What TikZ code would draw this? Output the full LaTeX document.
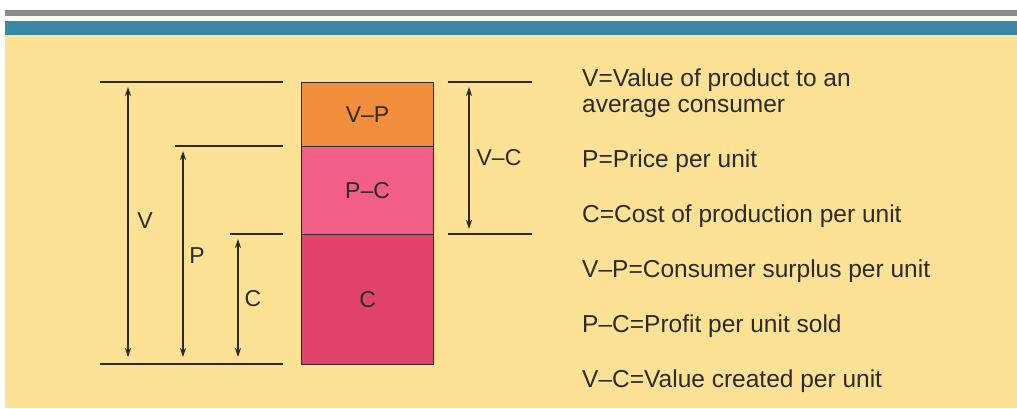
\documentclass[tikz,border=0pt]{standalone}
\usepackage{fontspec}
\setmainfont{Liberation Sans}
\usetikzlibrary{arrows.meta}
\definecolor{bg}{HTML}{FDE194}
\definecolor{teal}{HTML}{3A87A6}
\definecolor{greybar}{HTML}{8A8A8A}
\definecolor{orng}{HTML}{F28E3C}
\definecolor{pnk}{HTML}{F35E87}
\definecolor{dpnk}{HTML}{E1436B}
\definecolor{ink}{HTML}{2B2B2B}
\tikzset{
  guide/.style={draw=ink, line width=1.2pt},
  dim/.style={draw=ink, line width=1.2pt, {Stealth[length=9pt,width=6pt]}-{Stealth[length=9pt,width=6pt]}},
  seg/.style={draw=ink, line width=1.2pt, minimum width=132pt, inner sep=0pt, font=\fontsize{23}{27}\selectfont, text=ink},
  lbl/.style={font=\fontsize{23}{27}\selectfont, text=ink, inner sep=0pt},
  legend/.style={font=\fontsize{24.5}{26}\selectfont, text=ink, anchor=west, inner sep=0pt, align=left},
}
\begin{document}
\begin{tikzpicture}[x=1pt,y=-1pt]
\useasboundingbox (0,0) rectangle (1017,408);
\fill[white] (0,0) rectangle (1017,408);
\fill[greybar] (5,10) rectangle (1017,16);
\fill[teal] (5,21) rectangle (1017,35);
\fill[bg] (5,35) rectangle (1017,408);

% stacked bar
\node[seg, fill=orng, minimum height=64pt, anchor=north west] (vp) at (301,82) {V–P};
\node[seg, fill=pnk, minimum height=88pt, anchor=north west] (pc) at (301,146) {P–C};
\node[seg, fill=dpnk, minimum height=130pt, anchor=north west] (c) at (301,234) {C};

% guide lines
\coordinate (vt1) at (100,82);  \coordinate (vt2) at (283,82);
\coordinate (pt1) at (175,146); \coordinate (pt2) at (283,146);
\coordinate (ct1) at (230,234); \coordinate (ct2) at (283,234);
\coordinate (b1) at (100,364);  \coordinate (b2) at (283,364);
\draw[guide] (vt1) -- (vt2);
\draw[guide] (pt1) -- (pt2);
\draw[guide] (ct1) -- (ct2);
\draw[guide] (b1) -- (b2);

\coordinate (rt1) at (448,82);  \coordinate (rt2) at (532,82);
\coordinate (rb1) at (448,234); \coordinate (rb2) at (532,234);
\draw[guide] (rt1) -- (rt2);
\draw[guide] (rb1) -- (rb2);

% dimension arrows
\coordinate (va) at (128,87);  \coordinate (vb) at (128,357);
\coordinate (pa) at (183,151); \coordinate (pb) at (183,357);
\coordinate (ca) at (238,239); \coordinate (cb) at (238,357);
\coordinate (da) at (469,87);  \coordinate (db) at (469,229);
\draw[dim] (va) -- (vb);
\draw[dim] (pa) -- (pb);
\draw[dim] (ca) -- (cb);
\draw[dim] (da) -- (db);

\node[lbl] (lv) at (145,221) {V};
\node[lbl] (lp) at (197,256) {P};
\node[lbl] (lc) at (253,299) {C};
\node[lbl] (lvc) at (499,158) {V–C};

% legend
\node[legend] (t1) at (582,93) {V=Value of product to an\\average consumer};
\node[legend] (t2) at (582,161.5) {P=Price per unit};
\node[legend] (t3) at (582,216) {C=Cost of production per unit};
\node[legend] (t4) at (582,271) {V–P=Consumer surplus per unit};
\node[legend] (t5) at (582,326) {P–C=Profit per unit sold};
\node[legend] (t6) at (582,381) {V–C=Value created per unit};
\end{tikzpicture}
\end{document}
